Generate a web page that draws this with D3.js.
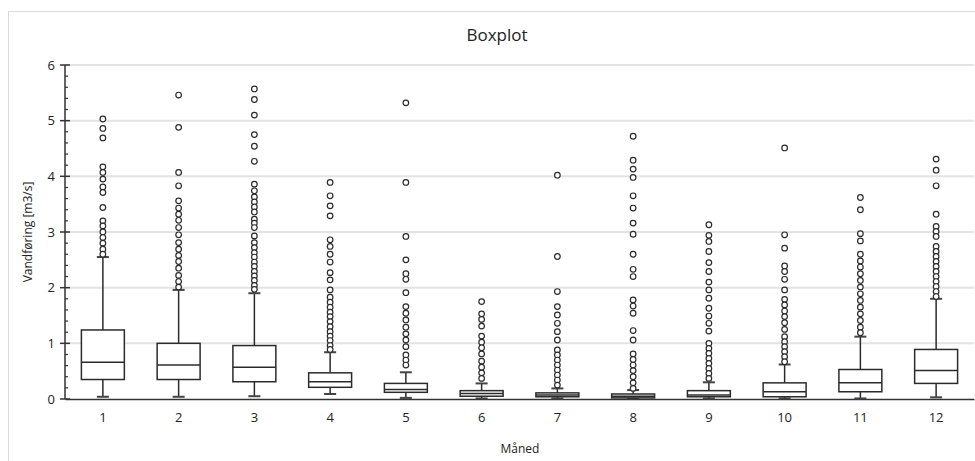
<!DOCTYPE html>
<html>
<head>
<meta charset="utf-8">
<script src="https://cdn.jsdelivr.net/npm/d3@7"></script>
<style>
  body { margin: 0; background: #fff; }
  svg { display: block; font-family: "Open Sans", "Noto Sans", sans-serif; }
</style>
</head>
<body>
<svg id="chart" width="975" height="461"></svg>
<script>
const months = ["1","2","3","4","5","6","7","8","9","10","11","12"];
const whiskerLow = [0.04, 0.04, 0.05, 0.09, 0.02, 0.01, 0.01, 0.01, 0.01, 0.01, 0.01, 0.03];
const q1 =         [0.35, 0.35, 0.31, 0.21, 0.12, 0.05, 0.04, 0.02, 0.04, 0.04, 0.13, 0.28];
const medians =    [0.66, 0.61, 0.57, 0.31, 0.17, 0.10, 0.07, 0.05, 0.07, 0.13, 0.29, 0.51];
const q3 =         [1.24, 1.00, 0.96, 0.47, 0.28, 0.15, 0.11, 0.09, 0.15, 0.29, 0.53, 0.89];
const whiskerHigh =[2.55, 1.96, 1.90, 0.84, 0.48, 0.28, 0.19, 0.16, 0.30, 0.62, 1.12, 1.80];
const outliers = [
  [5.03, 4.86, 4.69, 4.17, 4.07, 3.95, 3.81, 3.71, 3.44, 3.20, 3.11, 3.00, 2.90, 2.80, 2.69, 2.60],
  [5.46, 4.88, 4.07, 3.83, 3.56, 3.43, 3.32, 3.21, 3.08, 2.95, 2.81, 2.69, 2.58, 2.47, 2.35, 2.22, 2.11, 2.01],
  [5.57, 5.38, 5.10, 4.75, 4.54, 4.27, 3.86, 3.74, 3.63, 3.54, 3.45, 3.36, 3.23, 3.16, 3.08, 2.93, 2.81, 2.72, 2.63, 2.55, 2.46, 2.38, 2.29, 2.21, 2.13, 2.04, 1.97],
  [3.89, 3.65, 3.47, 3.29, 2.86, 2.74, 2.60, 2.46, 2.27, 2.14, 1.96, 1.83, 1.74, 1.65, 1.56, 1.48, 1.39, 1.30, 1.21, 1.13, 1.05, 0.96, 0.89],
  [5.32, 3.89, 2.92, 2.50, 2.25, 2.15, 1.91, 1.66, 1.54, 1.42, 1.29, 1.17, 1.06, 0.94, 0.79, 0.70, 0.61],
  [1.75, 1.53, 1.43, 1.31, 1.13, 1.02, 0.92, 0.81, 0.68, 0.57, 0.47, 0.37],
  [4.02, 2.56, 1.93, 1.66, 1.51, 1.36, 1.21, 1.06, 0.88, 0.79, 0.70, 0.61, 0.52, 0.43, 0.34, 0.25],
  [4.72, 4.29, 4.13, 3.98, 3.65, 3.43, 3.16, 2.96, 2.60, 2.33, 2.20, 1.78, 1.67, 1.54, 1.23, 1.06, 0.81, 0.71, 0.61, 0.51, 0.40, 0.29, 0.19],
  [3.13, 2.94, 2.83, 2.65, 2.45, 2.29, 2.10, 1.96, 1.81, 1.63, 1.49, 1.36, 1.22, 1.00, 0.91, 0.82, 0.73, 0.64, 0.55, 0.46, 0.37],
  [4.51, 2.95, 2.71, 2.39, 2.29, 2.15, 1.96, 1.79, 1.69, 1.58, 1.48, 1.37, 1.25, 1.12, 1.03, 0.94, 0.85, 0.76, 0.67],
  [3.62, 3.40, 2.97, 2.84, 2.60, 2.48, 2.37, 2.25, 2.13, 2.01, 1.89, 1.77, 1.65, 1.53, 1.41, 1.29, 1.19],
  [4.31, 4.11, 3.83, 3.32, 3.10, 3.01, 2.92, 2.74, 2.65, 2.56, 2.47, 2.38, 2.29, 2.20, 2.11, 2.02, 1.93, 1.84]
];
const yTicks = [0, 1, 2, 3, 4, 5, 6];
const titleText = "Boxplot";
const xLabel = "Måned";
const yLabel = "Vandføring [m3/s]";

const svg = d3.select("#chart");
const mLeft = 65, mRight = 974, mTop = 65, mBottom = 399;

// outer frame
svg.append("rect").attr("x", 8.5).attr("y", 11.5).attr("width", 1000).attr("height", 500)
  .attr("fill", "none").attr("stroke", "#d9d9d9").attr("stroke-width", 1);

const x = d3.scaleBand().domain(months).range([mLeft, mRight]).padding(0);
const y = d3.scaleLinear().domain([0, 6]).range([mBottom, mTop]);

// gridlines
svg.append("g").selectAll("line").data(yTicks.filter(d => d > 0)).join("line")
  .attr("x1", mLeft).attr("x2", mRight)
  .attr("y1", d => y(d)).attr("y2", d => y(d))
  .attr("stroke", "#e3e3e3").attr("stroke-width", 2);

// y axis: major ticks crossing, minor ticks inside
const yAxisG = svg.append("g").attr("transform", `translate(${mLeft},0)`);
yAxisG.append("line").attr("x1", 0).attr("x2", 0).attr("y1", y(6)).attr("y2", y(0))
  .attr("stroke", "#333").attr("stroke-width", 1.5);
const minor = d3.range(0, 6.001, 0.2).filter(v => Math.abs(v - Math.round(v)) > 1e-6);
yAxisG.selectAll("line.minor").data(minor).join("line").attr("class", "minor")
  .attr("x1", 0).attr("x2", 3).attr("y1", d => y(d)).attr("y2", d => y(d))
  .attr("stroke", "#333").attr("stroke-width", 1.2);
yAxisG.selectAll("line.major").data(yTicks).join("line").attr("class", "major")
  .attr("x1", -5).attr("x2", 5).attr("y1", d => y(d)).attr("y2", d => y(d))
  .attr("stroke", "#333").attr("stroke-width", 1.5);
yAxisG.selectAll("text").data(yTicks).join("text")
  .attr("x", -10).attr("y", d => y(d)).attr("dy", "0.35em")
  .attr("text-anchor", "end").attr("font-size", 13).attr("fill", "#222")
  .text(d => d);

// x axis
const xAxis = d3.axisBottom(x).tickSize(0).tickPadding(14);
const xg = svg.append("g").attr("transform", `translate(0,${mBottom})`).call(xAxis);
xg.select(".domain").attr("stroke", "#333").attr("stroke-width", 1.5);
xg.selectAll("text").attr("font-size", 13).attr("fill", "#222")
  .attr("font-family", "'Open Sans', 'Noto Sans', sans-serif");

const boxW = x.bandwidth() * 0.567;
const capW = 12;
const stroke = "#2b2b2b";

const g = svg.append("g");
months.forEach((m, i) => {
  const cx = x(m) + x.bandwidth() / 2;
  // whiskers
  g.append("line").attr("x1", cx).attr("x2", cx).attr("y1", y(q3[i])).attr("y2", y(whiskerHigh[i]))
    .attr("stroke", stroke).attr("stroke-width", 1.5);
  g.append("line").attr("x1", cx).attr("x2", cx).attr("y1", y(q1[i])).attr("y2", y(whiskerLow[i]))
    .attr("stroke", stroke).attr("stroke-width", 1.5);
  // caps
  [whiskerHigh[i], whiskerLow[i]].forEach(v => {
    g.append("line").attr("x1", cx - capW / 2).attr("x2", cx + capW / 2)
      .attr("y1", y(v)).attr("y2", y(v)).attr("stroke", "#444").attr("stroke-width", 2);
  });
  // box
  g.append("rect").attr("x", cx - boxW / 2).attr("width", boxW)
    .attr("y", y(q3[i])).attr("height", Math.max(0.5, y(q1[i]) - y(q3[i])))
    .attr("fill", "#fff").attr("stroke", stroke).attr("stroke-width", 1.5);
  g.append("line").attr("x1", cx - boxW / 2).attr("x2", cx + boxW / 2)
    .attr("y1", y(medians[i])).attr("y2", y(medians[i]))
    .attr("stroke", stroke).attr("stroke-width", 1.5);
  // outliers
  g.selectAll(null).data(outliers[i]).join("circle")
    .attr("cx", cx).attr("cy", d => y(d)).attr("r", 2.8)
    .attr("fill", "#fff").attr("stroke", stroke).attr("stroke-width", 1.2);
});

// title and labels
svg.append("text").attr("x", 497).attr("y", 41).attr("text-anchor", "middle")
  .attr("font-size", 17).attr("fill", "#222").text(titleText);
svg.append("text").attr("x", 520).attr("y", 453).attr("text-anchor", "middle")
  .attr("font-size", 12).attr("fill", "#222").text(xLabel);
svg.append("text").attr("transform", `translate(32,${(mTop + mBottom) / 2}) rotate(-90)`)
  .attr("text-anchor", "middle").attr("font-size", 12).attr("fill", "#222").text(yLabel);
</script>
</body>
</html>
